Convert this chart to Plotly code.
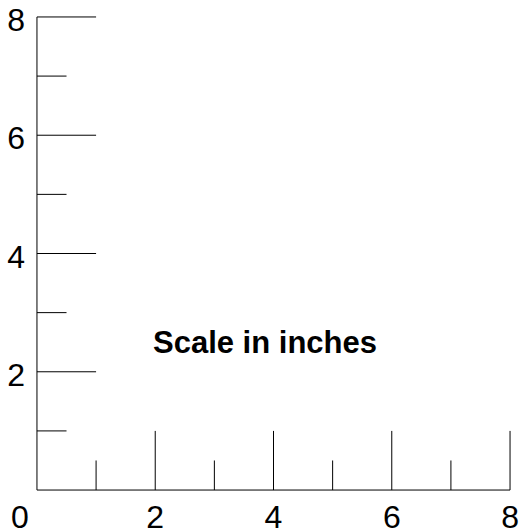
import plotly.graph_objects as go

# Data
axis_max = 8
tick_positions = [1, 2, 3, 4, 5, 6, 7, 8]
tick_lengths = [0.5, 1, 0.5, 1, 0.5, 1, 0.5, 1]
label_values = [2, 4, 6, 8]
title_text = "Scale in inches"
title_pos = (3.85, 2.5)

xs, ys = [], []
# main axes lines
xs += [0, 0, None, 0, axis_max, None]
ys += [0, axis_max, None, 0, 0, None]
# vertical-axis ticks (horizontal segments)
for p, L in zip(tick_positions, tick_lengths):
    xs += [0, L, None]
    ys += [p, p, None]
# horizontal-axis ticks (vertical segments)
for p, L in zip(tick_positions, tick_lengths):
    xs += [p, p, None]
    ys += [0, L, None]

FONT = "Liberation Sans, Arial, sans-serif"

fig = go.Figure()
fig.add_trace(go.Scatter(x=xs, y=ys, mode="lines",
                         line=dict(color="black", width=1),
                         hoverinfo="skip", showlegend=False))

fig.add_annotation(x=title_pos[0], y=title_pos[1], text="<b>" + title_text + "</b>",
                   showarrow=False, font=dict(size=31, color="black", family=FONT))
fig.add_annotation(x=0, y=0, text="0", showarrow=False, xshift=-17, yshift=-27,
                   font=dict(size=32, color="black", family=FONT))

pad = 0.05
fig.update_layout(
    width=520, height=531,
    margin=dict(l=34.04, r=7.06, t=14.04, b=38.06, pad=0),
    plot_bgcolor="white", paper_bgcolor="white",
    font=dict(family=FONT, size=32, color="black"),
    xaxis=dict(range=[-pad, axis_max + pad], showgrid=False, zeroline=False, showline=False,
               automargin=False, ticklabeloverflow="allow",
               tickmode="array", tickvals=label_values, ticks="", ticklabelstandoff=2),
    yaxis=dict(range=[-pad, axis_max + pad], showgrid=False, zeroline=False, showline=False,
               automargin=False, ticklabeloverflow="allow",
               tickmode="array", tickvals=label_values, ticks="", ticklabelstandoff=8,
               ticklabelshift=3),
)

fig.write_html("out.html",
               config={"displayModeBar": False},
               post_script="document.body.style.margin='0';document.body.style.overflow='hidden';")
